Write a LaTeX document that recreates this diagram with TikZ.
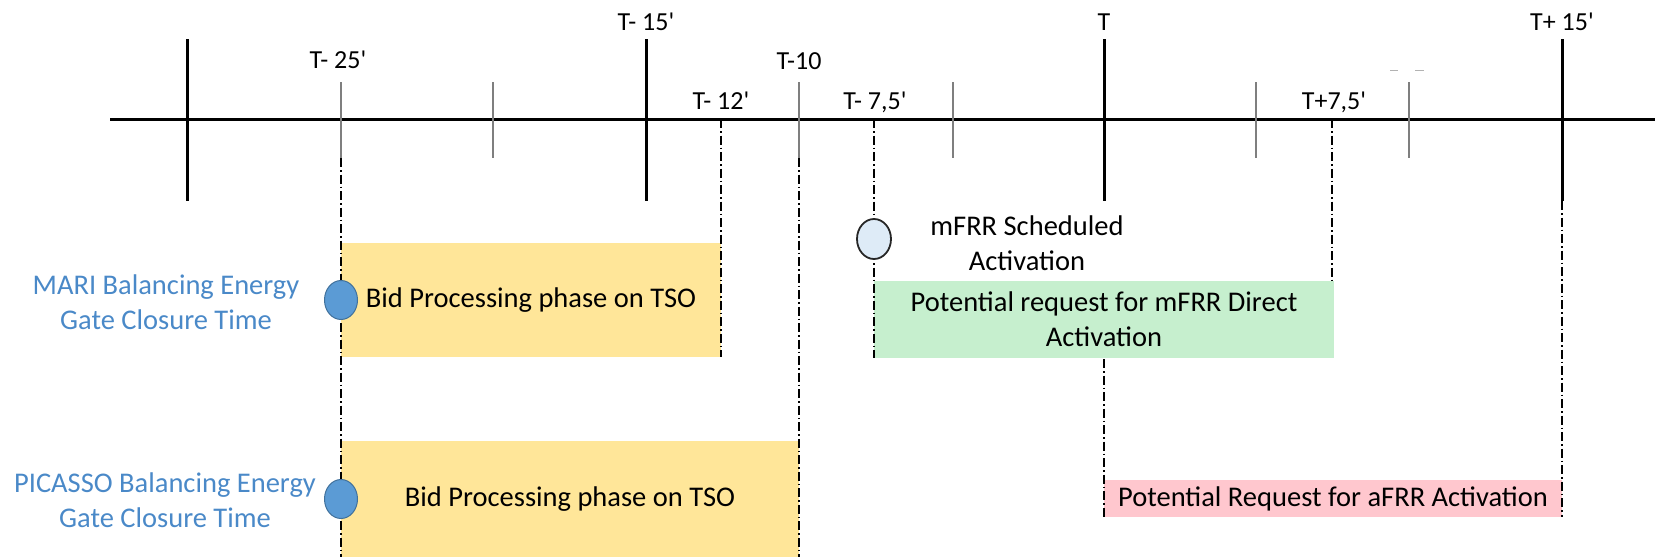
\documentclass[tikz,border=0pt]{standalone}
\usepackage{fontspec}
\setmainfont{Carlito}[Ligatures=TeXOff]
\usetikzlibrary{shapes.geometric}

\definecolor{phaseyellow}{HTML}{FFE699}
\definecolor{phasegreen}{HTML}{C6EFCE}
\definecolor{phasepink}{HTML}{FFC7CE}
\definecolor{gctfill}{HTML}{5B9BD5}
\definecolor{gctline}{HTML}{41719C}
\definecolor{gcttext}{HTML}{4A89C8}
\definecolor{schedfill}{HTML}{DEEBF7}
\definecolor{ticklight}{HTML}{7F7F7F}

\tikzset{
  axisline/.style={line width=3pt, black},
  majortick/.style={line width=3pt, black},
  minortick/.style={line width=1.3pt, ticklight},
  guide/.style={line width=1.5pt, black, dash pattern=on 9pt off 3pt on 1.5pt off 3pt},
  timelabel/.style={font=\fontsize{26}{31}\selectfont, inner sep=0pt, text height=17pt, text depth=0pt, anchor=center},
  bodytext/.style={font=\fontsize{28.5}{35}\selectfont, align=center, inner sep=0pt},
  gcttextstyle/.style={bodytext, text=gcttext},
  phasebox/.style={bodytext, draw=none, minimum width=#1},
  gctdot/.style={ellipse, fill=gctfill, draw=gctline, line width=1pt, minimum width=33pt, minimum height=39pt, inner sep=0pt},
  scheddot/.style={ellipse, fill=schedfill, draw=black!85, line width=1.8pt, minimum width=34pt, minimum height=40pt, inner sep=0pt},
}

\begin{document}
\begin{tikzpicture}[x=1pt, y=-1pt]
\useasboundingbox (0,0) rectangle (1655,557);

% phase boxes (drawn first so guides sit on their edges)
\node[phasebox=380pt, fill=phaseyellow, minimum height=114pt] (mariphase) at (531,300) {Bid Processing phase on TSO};
\node[phasebox=458pt, fill=phaseyellow, minimum height=116pt] (picphase) at (570,499) {Bid Processing phase on TSO};
\node[phasebox=460pt, fill=phasegreen, minimum height=77pt] (mfrrdirect) at (1104,319.5) {Potential request for mFRR Direct\\Activation};
\node[phasebox=458pt, fill=phasepink, minimum height=37pt] (afrr) at (1333,498.5) {Potential Request for aFRR Activation};

% time axis
\coordinate (axL) at (110,119);
\coordinate (axR) at (1655,119);
\draw[axisline] (axL) -- (axR);

% major ticks every 15 minutes
\foreach \n/\x in {a/187, b/646, c/1104, d/1562} {
  \coordinate (maj\n top) at (\x,39);
  \coordinate (maj\n bot) at (\x,201);
  \draw[majortick] (maj\n top) -- (maj\n bot);
}

% minor ticks every 5 minutes
\foreach \n/\x in {a/341, b/493, c/799, d/953, e/1256, f/1409} {
  \coordinate (min\n top) at (\x,82);
  \coordinate (min\n bot) at (\x,158);
  \draw[minortick] (min\n top) -- (min\n bot);
}

% small stray marks above the axis
\coordinate (sm1a) at (1390,70); \coordinate (sm1b) at (1398,70);
\coordinate (sm2a) at (1415,70); \coordinate (sm2b) at (1424,70);
\draw[line width=0.8pt, black!30] (sm1a) -- (sm1b) (sm2a) -- (sm2b);

% guide lines
\coordinate (g25top) at (341,158);  \coordinate (g25bot) at (341,557);
\coordinate (g12top) at (721,119);  \coordinate (g12bot) at (721,357);
\coordinate (g10top) at (799,158);  \coordinate (g10bot) at (799,557);
\coordinate (g75top) at (874,119);  \coordinate (g75bot) at (874,358);
\coordinate (gp75top) at (1332,119); \coordinate (gp75bot) at (1332,281);
\coordinate (g0top) at (1104,359);  \coordinate (g0bot) at (1104,517);
\coordinate (gp15top) at (1562,201); \coordinate (gp15bot) at (1562,517);
\draw[guide] (g25top) -- (g25bot);
\draw[guide] (g12top) -- (g12bot);
\draw[guide] (g10top) -- (g10bot);
\draw[guide] (g75top) -- (g75bot);
\draw[guide] (gp75top) -- (gp75bot);
\draw[guide] (g0top) -- (g0bot);
\draw[guide] (gp15top) -- (gp15bot);

% time labels
\node[timelabel] (lm25) at (338,60) {T- 25'};
\node[timelabel] (lm15) at (646,22) {T- 15'};
\node[timelabel] (lm10) at (799,61) {T-10};
\node[timelabel] (lm12) at (721,101) {T- 12'};
\node[timelabel] (lm75) at (875,101) {T- 7,5'};
\node[timelabel] (lt)   at (1104,22) {T};
\node[timelabel] (lp75) at (1334,101) {T+7,5'};
\node[timelabel] (lp15) at (1562,22) {T+ 15'};

% gate closure markers
\node[gctdot] (marigct) at (341,300) {};
\node[gctdot] (picgct) at (341,499) {};
\node[scheddot] (sched) at (874,239) {};

% side texts
\node[gcttextstyle] (maritext) at (166,302) {MARI Balancing Energy\\Gate Closure Time};
\node[gcttextstyle] (pictext) at (165,500) {PICASSO Balancing Energy\\Gate Closure Time};
\node[bodytext] (schedtext) at (1027,243) {mFRR Scheduled\\Activation};

\end{tikzpicture}
\end{document}
